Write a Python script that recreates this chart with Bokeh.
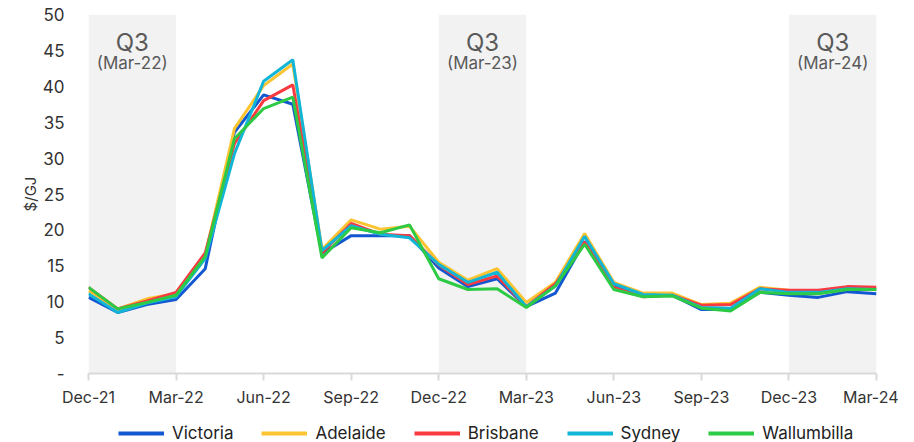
from bokeh.plotting import figure
from bokeh.layouts import column
from bokeh.models import ColumnDataSource, FixedTicker, Legend, LegendItem, Range1d
from bokeh.core.properties import value
from bokeh.embed import file_html
from bokeh.resources import INLINE

months = ["Dec-21", "Jan-22", "Feb-22", "Mar-22", "Apr-22", "May-22", "Jun-22", "Jul-22",
          "Aug-22", "Sep-22", "Oct-22", "Nov-22", "Dec-22", "Jan-23", "Feb-23", "Mar-23",
          "Apr-23", "May-23", "Jun-23", "Jul-23", "Aug-23", "Sep-23", "Oct-23", "Nov-23",
          "Dec-23", "Jan-24", "Feb-24", "Mar-24"]

victoria = [10.6, 8.5, 9.6, 10.3, 14.6, 33.6, 38.8, 37.5, 16.7, 19.2, 19.2, 19.2, 14.7, 12.1,
            13.2, 9.3, 11.2, 18.4, 12.2, 10.8, 10.9, 8.9, 8.9, 11.3, 10.9, 10.6, 11.4, 11.1]
adelaide = [11.5, 9.0, 10.4, 11.1, 16.5, 34.1, 40.1, 43.1, 17.3, 21.4, 20.1, 20.5, 15.5, 13.0,
            14.6, 9.9, 12.7, 19.5, 12.7, 11.2, 11.2, 9.6, 9.8, 12.0, 11.6, 11.5, 12.0, 11.8]
brisbane = [12.0, 9.0, 10.1, 11.3, 16.8, 32.0, 38.0, 40.2, 16.8, 20.9, 19.4, 19.2, 15.1, 12.4,
            13.6, 9.3, 12.5, 18.3, 12.0, 10.7, 10.9, 9.5, 9.6, 11.8, 11.6, 11.6, 12.1, 12.0]
sydney = [11.1, 8.5, 9.8, 10.7, 16.0, 30.6, 40.7, 43.7, 17.1, 20.6, 19.4, 18.9, 15.2, 12.7,
          14.1, 9.3, 12.2, 19.1, 12.5, 11.0, 10.9, 9.2, 9.1, 11.8, 11.3, 11.3, 11.8, 11.7]
wallumbilla = [12.0, 9.0, 9.9, 10.9, 16.3, 32.7, 36.9, 38.5, 16.1, 20.3, 19.6, 20.7, 13.2, 11.7,
               11.8, 9.2, 12.2, 18.0, 11.7, 10.7, 10.8, 9.1, 8.7, 11.3, 11.1, 11.1, 11.7, 11.7]

series_names = ["Victoria", "Adelaide", "Brisbane", "Sydney", "Wallumbilla"]
series_values = [victoria, adelaide, brisbane, sydney, wallumbilla]
series_colors = ["#1357d1", "#fdc431", "#f93a41", "#11b5d6", "#2dcb45"]

tick_labels = ["Dec-21", "Mar-22", "Jun-22", "Sep-22", "Dec-22", "Mar-23", "Jun-23",
               "Sep-23", "Dec-23", "Mar-24"]
y_ticks = [0, 5, 10, 15, 20, 25, 30, 35, 40, 45, 50]

shade_start = ["Dec-21", "Dec-22", "Dec-23"]
shade_end = ["Mar-22", "Mar-23", "Mar-24"]
shade_title = ["Q3", "Q3", "Q3"]
shade_sub = ["(Mar-22)", "(Mar-23)", "(Mar-24)"]

FONT = "Inter"
x = list(range(len(months)))

p = figure(frame_width=788, frame_height=359, output_backend="svg", toolbar_location=None,
           x_range=Range1d(0, len(months) - 1), y_range=Range1d(0, 50),
           min_border_left=88, min_border_right=22, min_border_top=14, min_border_bottom=0)
p.outline_line_color = None
p.xgrid.visible = False
p.ygrid.visible = False
p.background_fill_color = "white"
p.border_fill_color = "white"

# shaded quarters
ss = [months.index(m) for m in shade_start]
se = [months.index(m) for m in shade_end]
shade_src = ColumnDataSource(dict(left=ss, right=se, mid=[(a + b) / 2 for a, b in zip(ss, se)],
                                  title=shade_title, sub=shade_sub,
                                  bottom=[0] * 3, top=[50] * 3,
                                  ty=[46.1] * 3, sy=[43.3] * 3))
p.quad(left="left", right="right", bottom="bottom", top="top", source=shade_src,
       fill_color="#f2f2f2", line_color=None)
p.text(x="mid", y="ty", text="title", source=shade_src, text_align="center",
       text_baseline="middle", text_font=value(FONT), text_font_size="24px", text_color="#595959")
p.text(x="mid", y="sy", text="sub", source=shade_src, text_align="center",
       text_baseline="middle", text_font=value(FONT), text_font_size="17px", text_color="#595959")

for name, vals, col in zip(series_names, series_values, series_colors):
    p.line(x, vals, line_color=col, line_width=3)

# axes
tick_pos = [months.index(t) for t in tick_labels]
p.xaxis.ticker = FixedTicker(ticks=tick_pos)
p.xaxis.major_label_overrides = {tp: t for tp, t in zip(tick_pos, tick_labels)}
p.xaxis.axis_line_color = "#d9d9d9"
p.xaxis.axis_line_width = 2
p.xaxis.major_tick_line_color = "#d9d9d9"
p.xaxis.major_tick_line_width = 2
p.xaxis.major_tick_out = 7
p.xaxis.major_tick_in = 0
p.xaxis.minor_tick_line_color = None
p.xaxis.major_label_standoff = 6
p.xaxis.major_label_text_font = FONT
p.xaxis.major_label_text_font_size = "16px"
p.xaxis.major_label_text_color = "#333333"

p.yaxis.ticker = FixedTicker(ticks=y_ticks)
p.yaxis.major_label_overrides = {0: "-"}
p.yaxis.axis_line_color = None
p.yaxis.major_tick_line_color = None
p.yaxis.minor_tick_line_color = None
p.yaxis.major_label_standoff = 18
p.yaxis.major_label_text_font = FONT
p.yaxis.major_label_text_font_size = "17px"
p.yaxis.major_label_text_color = "#333333"
p.yaxis.axis_label = "$/GJ"
p.yaxis.axis_label_text_font = FONT
p.yaxis.axis_label_text_font_style = "normal"
p.yaxis.axis_label_text_font_size = "15px"
p.yaxis.axis_label_text_color = "#333333"
p.yaxis.axis_label_standoff = 0

# legend strip below the chart (swatch renderers carry no visible data)
lg = figure(width=898, height=37, output_backend="svg", toolbar_location=None,
            x_range=Range1d(0, 1), y_range=Range1d(0, 1), min_border=0)
lg.axis.visible = False
lg.grid.visible = False
lg.outline_line_color = None
items = []
for name, col in zip(series_names, series_colors):
    r = lg.line(x=[float("nan")], y=[float("nan")], line_color=col, line_width=4)
    items.append(LegendItem(label=name, renderers=[r]))
legend = Legend(items=items, orientation="horizontal", location=(30, 3),
                glyph_width=46, glyph_height=14, label_standoff=8, spacing=28,
                label_text_font=FONT, label_text_font_size="17px", label_text_color="#222222",
                border_line_color=None, background_fill_alpha=0, padding=0, margin=0)
lg.add_layout(legend, "center")

open("out.html", "w").write(file_html(column(p, lg, spacing=0), INLINE))
